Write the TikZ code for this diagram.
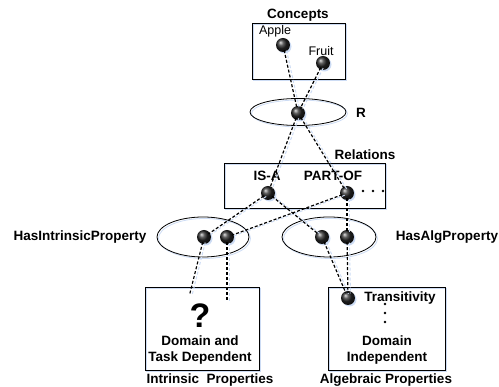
\documentclass[tikz,border=0pt]{standalone}
\usepackage{fontspec}
\setmainfont{Liberation Sans}
\usetikzlibrary{shapes.geometric,shadows}
\definecolor{shadowblue}{RGB}{205,220,244}

\begin{document}
\begin{tikzpicture}[x=1pt,y=-1pt,
    ball/.style={circle,shading=ball,ball color=black!85,minimum size=14pt,inner sep=0pt,
      drop shadow={shadow xshift=1.5pt,shadow yshift=-1.5pt,fill=shadowblue,opacity=1}},
    frame/.style={draw,line width=0.8pt,inner sep=0pt,
      preaction={draw=shadowblue,line width=0.8pt,transform canvas={shift={(1.5pt,-1.5pt)}}}},
    link/.style={densely dashed,line width=1.2pt,shorten <=-2pt,shorten >=-2pt,
      preaction={draw=shadowblue,densely dashed,line width=1pt,transform canvas={shift={(2.5pt,-0.5pt)}}}},
    lbl/.style={font=\bfseries\fontsize{13.5}{16}\selectfont},
    word/.style={font=\fontsize{12.5}{15}\selectfont}]
    \useasboundingbox (0,0) rectangle (499,387);
    % boxes and relation ellipses
    \node (conbox) at (298.5,51) [frame,minimum width=93,minimum height=56] {};
    \node (rell) at (298,112) [frame,ellipse,minimum width=96,minimum height=27] {};
    \node (relbox) at (304.5,185.5) [frame,minimum width=161,minimum height=45] {};
    \node (intell) at (203,237) [frame,ellipse,minimum width=92,minimum height=40] {};
    \node (algell) at (329,237) [frame,ellipse,minimum width=94,minimum height=40] {};
    \node (intbox) at (202,328.5) [frame,minimum width=114,minimum height=83] {};
    \node (algbox) at (386.5,328.5) [frame,minimum width=117,minimum height=83] {};
    % labels
    \node (conlbl) at (298,15) [lbl] {Concepts};
    \node (applelbl) at (275,31) [word] {Apple};
    \node (fruitlbl) at (321,51) [word] {Fruit};
    \node (rlbl) at (361,113) [lbl] {R};
    \node (rellbl) at (365,155) [lbl] {Relations};
    \node (isalbl) at (267,176) [lbl] {IS-A};
    \node (partlbl) at (333,176) [lbl] {PART-OF};
    \node (intlbl) at (80,237) [lbl] {HasIntrinsicProperty};
    \node (alglbl) at (447,237) [lbl] {HasAlgProperty};
    \node (qmark) at (200,316) [font=\bfseries\fontsize{34}{34}\selectfont] {?};
    \node (intdesc) at (200,350.5) [lbl,align=center] {Domain and\\Task Dependent};
    \node (inttitle) at (210,380) [lbl] {Intrinsic\ \ Properties};
    \node (translbl) at (400,298) [lbl] {Transitivity};
    \node (algdesc) at (387,350.5) [lbl,align=center] {Domain\\Independent};
    \node (algtitle) at (386,380) [lbl] {Algebraic Properties};
    % dots
    \foreach \x in {363,373,383}
      \fill (\x,191) circle (1.4);
    \foreach \y in {304,313,322}
      \fill (385,\y) circle (1.3);
    % balls
    \node (apple) at (283,45) [ball] {};
    \node (fruit) at (323,63) [ball] {};
    \node (rball) at (298,113) [ball] {};
    \node (isa) at (268,193) [ball] {};
    \node (partof) at (347,193) [ball] {};
    \node (int1) at (204,237) [ball] {};
    \node (int2) at (227,237) [ball] {};
    \node (alg1) at (322,237) [ball] {};
    \node (alg2) at (347,237) [ball] {};
    \node (trans) at (348,298) [ball] {};
    % free ends
    \coordinate (intend1) at (190,293);
    \coordinate (intend2) at (227,300);
    % connectors
    \draw[link] (apple) -- (rball);
    \draw[link] (fruit) -- (rball);
    \draw[link] (rball) -- (isa);
    \draw[link] (rball) -- (partof);
    \draw[link] (isa) -- (int1);
    \draw[link] (isa) -- (alg1);
    \draw[link] (partof) -- (int2);
    \draw[link] (partof) -- (alg2);
    \draw[link] (int1) -- (intend1);
    \draw[link] (int2) -- (intend2);
    \draw[link] (alg1) -- (trans);
    \draw[link] (alg2) -- (trans);
\end{tikzpicture}
\end{document}
